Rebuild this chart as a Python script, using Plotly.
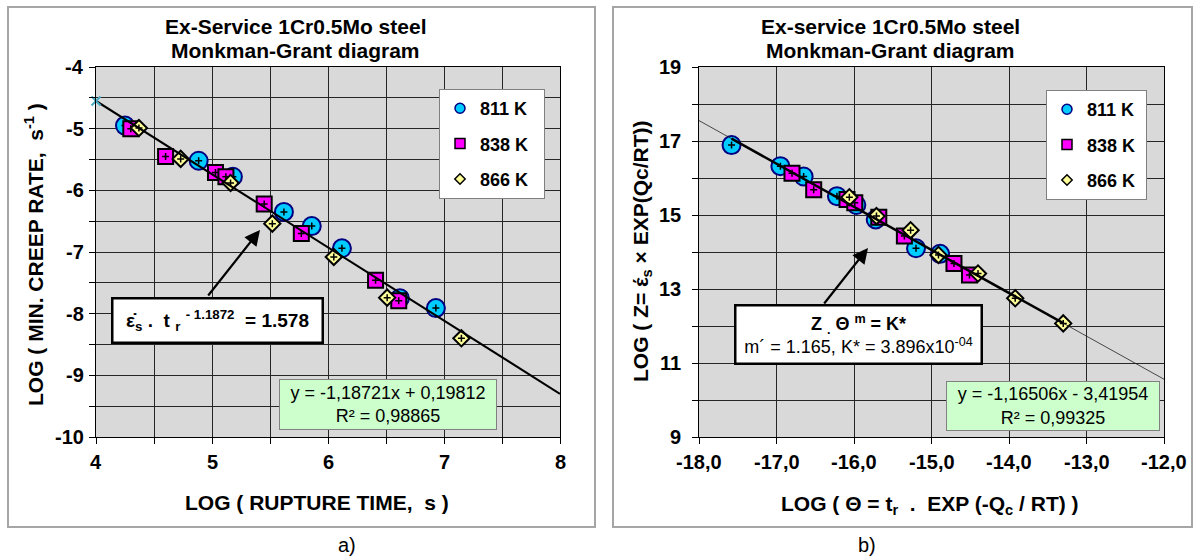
import plotly.graph_objects as go

W, H = 1198, 559

# ---------------- data ----------------
# a) Monkman-Grant: log rupture time vs log min creep rate
x811_a = [4.25, 4.885, 5.18, 5.62, 5.86, 6.12, 6.62, 6.93]
y811_a = [-4.95, -5.52, -5.78, -6.35, -6.58, -6.94, -7.75, -7.91]
x838_a = [4.30, 4.60, 5.03, 5.12, 5.45, 5.77, 6.41, 6.61]
y838_a = [-5.00, -5.45, -5.71, -5.78, -6.22, -6.70, -7.46, -7.79]
x866_a = [4.37, 4.73, 5.16, 5.52, 6.05, 6.51, 7.15]
y866_a = [-4.99, -5.49, -5.88, -6.54, -7.08, -7.74, -8.40]

# b) modified Monkman-Grant: log Theta vs log Z
x811_b = [-17.58, -16.95, -16.65, -16.22, -15.97, -15.72, -15.20, -14.89]
y811_b = [16.89, 16.32, 16.04, 15.51, 15.27, 14.88, 14.10, 13.95]
x838_b = [-16.80, -16.52, -16.09, -15.99, -15.68, -15.35, -14.71, -14.51]
y838_b = [16.13, 15.68, 15.42, 15.33, 14.94, 14.43, 13.69, 13.38]
x866_b = [-16.06, -15.71, -15.27, -14.91, -14.40, -13.92, -13.30]
y866_b = [15.48, 14.97, 14.59, 13.92, 13.42, 12.75, 12.07]

series_names = ["811 K", "838 K", "866 K"]

# trendline coefficients (slope, intercept)
fit_a = (-1.18721, 0.19812)
fit_b = (-1.16506, -3.41954)

# axis ranges / ticks
xrange_a = [4, 8]
yrange_a = [-10, -4]
xgrid_a = [4, 4.5, 5, 5.5, 6, 6.5, 7, 7.5, 8]
xlab_a = ["4", "", "5", "", "6", "", "7", "", "8"]
ygrid_a = [-10, -9.5, -9, -8.5, -8, -7.5, -7, -6.5, -6, -5.5, -5, -4.5, -4]
ylab_a = ["-10", "", "-9", "", "-8", "", "-7", "", "-6", "", "-5", "", "-4"]

xrange_b = [-18, -12]
yrange_b = [9, 19]
xgrid_b = [-18, -17, -16, -15, -14, -13, -12]
xlab_b = ["-18,0", "-17,0", "-16,0", "-15,0", "-14,0", "-13,0", "-12,0"]
ygrid_b = [9, 10, 11, 12, 13, 14, 15, 16, 17, 18, 19]
ylab_b = ["9", "", "11", "", "13", "", "15", "", "17", "", "19"]

# ---------------- styles ----------------
FONT = "Arial, Liberation Sans, sans-serif"
styles = [
    dict(symbol="circle", size=18, color="#00CCFF", line=dict(color="#000080", width=2)),
    dict(symbol="square", size=15, color="#FF00FF", line=dict(color="#000000", width=2)),
    dict(symbol="diamond", size=12.5, color="#FFFF99", line=dict(color="#000000", width=2)),
]
leg_styles = [
    dict(symbol="circle", size=10, color="#00CCFF", line=dict(color="#000080", width=1.5)),
    dict(symbol="square", size=10, color="#FF00FF", line=dict(color="#000000", width=1.5)),
    dict(symbol="diamond", size=8, color="#FFFF99", line=dict(color="#000000", width=1.5)),
]


def px(x):
    return x / W


def py(y):
    return 1 - y / H


fig = go.Figure()

data_a = [(x811_a, y811_a), (x838_a, y838_a), (x866_a, y866_a)]
data_b = [(x811_b, y811_b), (x838_b, y838_b), (x866_b, y866_b)]

for (xs, ys), st in zip(data_a, styles):
    fig.add_trace(go.Scatter(x=xs, y=ys, mode="markers", marker=st, showlegend=False,
                             xaxis="x", yaxis="y", hoverinfo="skip"))
    fig.add_trace(go.Scatter(x=xs, y=ys, mode="markers",
                             marker=dict(symbol="cross-thin", size=5, line=dict(color="black", width=1.5)),
                             showlegend=False, xaxis="x", yaxis="y", hoverinfo="skip"))

for (xs, ys), st in zip(data_b, styles):
    fig.add_trace(go.Scatter(x=xs, y=ys, mode="markers", marker=st, showlegend=False,
                             xaxis="x2", yaxis="y2", hoverinfo="skip"))
    fig.add_trace(go.Scatter(x=xs, y=ys, mode="markers",
                             marker=dict(symbol="cross-thin", size=5, line=dict(color="black", width=1.5)),
                             showlegend=False, xaxis="x2", yaxis="y2", hoverinfo="skip"))

# trendline a)
la_x = xrange_a
la_y = [fit_a[0] * v + fit_a[1] for v in la_x]
fig.add_trace(go.Scatter(x=la_x, y=la_y, mode="lines", line=dict(color="black", width=2),
                         showlegend=False, xaxis="x", yaxis="y", hoverinfo="skip"))
fig.add_trace(go.Scatter(x=[la_x[0]], y=[la_y[0]], mode="markers",
                         marker=dict(symbol="x-thin", size=9, line=dict(color="#4BACC6", width=2)),
                         showlegend=False, xaxis="x", yaxis="y", hoverinfo="skip", cliponaxis=False))

# trendline b) : thin full extent + thick over data range
lb_x = xrange_b
lb_y = [fit_b[0] * v + fit_b[1] for v in lb_x]
fig.add_trace(go.Scatter(x=lb_x, y=lb_y, mode="lines", line=dict(color="#222222", width=0.8),
                         showlegend=False, xaxis="x2", yaxis="y2", hoverinfo="skip"))
all_xb = x811_b + x838_b + x866_b
lt_x = [min(all_xb), max(all_xb)]
lt_y = [fit_b[0] * v + fit_b[1] for v in lt_x]
fig.add_trace(go.Scatter(x=lt_x, y=lt_y, mode="lines", line=dict(color="black", width=2.5),
                         showlegend=False, xaxis="x2", yaxis="y2", hoverinfo="skip"))

# legend dummy traces
for name, st in zip(series_names, leg_styles):
    fig.add_trace(go.Scatter(x=[None], y=[None], mode="markers", marker=st, name=name + "\u00a0\u00a0",
                             legend="legend", legendgroup="a" + name, xaxis="x", yaxis="y"))
for name, st in zip(series_names, leg_styles):
    fig.add_trace(go.Scatter(x=[None], y=[None], mode="markers", marker=st, name=name + "\u00a0",
                             legend="legend2", legendgroup="b" + name, xaxis="x2", yaxis="y2"))

grid = "#262626"

ax_common = dict(showgrid=True, gridcolor=grid, gridwidth=1, zeroline=False,
                 showline=True, linecolor="black", linewidth=1, mirror=True,
                 ticks="outside", ticklen=6, tickcolor="black", showticklabels=False,
                 tickmode="array", fixedrange=True)

fig.update_layout(
    width=W, height=H,
    margin=dict(l=0, r=0, t=0, b=0),
    paper_bgcolor="white",
    plot_bgcolor="#D9D9D9",
    font=dict(family=FONT, color="black"),
    xaxis=dict(domain=[px(96), px(560)], range=xrange_a, tickvals=xgrid_a, anchor="y", **ax_common),
    yaxis=dict(domain=[py(437), py(67)], range=yrange_a, tickvals=ygrid_a, anchor="x", **ax_common),
    xaxis2=dict(domain=[px(699), px(1164)], range=xrange_b, tickvals=xgrid_b, anchor="y2", **ax_common),
    yaxis2=dict(domain=[py(437), py(67)], range=yrange_b, tickvals=ygrid_b, anchor="x2", **ax_common),
    legend=dict(x=px(439), y=py(89), xanchor="left", yanchor="top",
                bgcolor="white", bordercolor="#808080", borderwidth=1,
                font=dict(family=FONT, size=18, color="black", weight="bold"),
                tracegroupgap=9, itemwidth=30),
    legend2=dict(x=px(1046), y=py(90), xanchor="left", yanchor="top",
                 bgcolor="white", bordercolor="#808080", borderwidth=1,
                 font=dict(family=FONT, size=18, color="black", weight="bold"),
                 tracegroupgap=9, itemwidth=30),
)

# chart frames
for x0, x1 in [(8, 595), (613, 1192)]:
    fig.add_shape(type="rect", xref="paper", yref="paper",
                  x0=px(x0), x1=px(x1), y0=py(527), y1=py(7),
                  line=dict(color="#A6A6A6", width=2), fillcolor="rgba(0,0,0,0)", layer="below")

ann = []


def text(x, y, s, size, bold=True, angle=0, **kw):
    d = dict(x=px(x), y=py(y), xref="paper", yref="paper", text=("<b>%s</b>" % s) if bold else s,
             showarrow=False, xanchor="center", yanchor="middle", textangle=angle,
             font=dict(family=FONT, size=size, color="black"))
    d.update(kw)
    ann.append(d)


# bold tick labels placed at the axis tick values
TICK = 20
for v, s in zip(xgrid_a, xlab_a):
    if s:
        ann.append(dict(x=v, xref="x", y=py(462), yref="paper", text="<b>%s</b>" % s, showarrow=False,
                        xanchor="center", yanchor="middle", font=dict(family=FONT, size=TICK, color="black")))
for v, s in zip(ygrid_a, ylab_a):
    if s:
        ann.append(dict(x=px(86), xref="paper", y=v, yref="y", text="<b>%s</b>" % s, showarrow=False,
                        xanchor="right", yanchor="middle", font=dict(family=FONT, size=TICK, color="black")))
for v, s in zip(xgrid_b, xlab_b):
    if s:
        ann.append(dict(x=v, xref="x2", y=py(462), yref="paper", text="<b>%s</b>" % s, showarrow=False,
                        xanchor="center", yanchor="middle", font=dict(family=FONT, size=TICK, color="black")))
for v, s in zip(ygrid_b, ylab_b):
    if s:
        ann.append(dict(x=px(683), xref="paper", y=v, yref="y2", text="<b>%s</b>" % s, showarrow=False,
                        xanchor="right", yanchor="middle", font=dict(family=FONT, size=TICK, color="black")))

# titles
text(295, 27, "Ex-Service 1Cr0.5Mo steel", 21)
text(295, 50, "Monkman-Grant diagram", 21)
text(890, 27, "Ex-service 1Cr0.5Mo steel", 21)
text(890, 50, "Monkman-Grant diagram", 21)

# axis titles
text(317, 502, "LOG ( RUPTURE TIME,\u00a0 s )", 21)
text(34, 255, "LOG ( MIN. CREEP RATE,\u00a0 s<sup>-1</sup> )", 21, angle=-90)
text(930, 505, "LOG ( \u0398 = t<sub>r</sub>\u00a0 .\u00a0 EXP (-Q<sub>c</sub> / RT) )", 21)
text(642, 251, "LOG ( Z= \u03ad<sub>s</sub> \u00d7 EXP(Qc/RT))", 21, angle=-90)

# captions
text(347, 545, "a)", 20, bold=False)
text(867, 545, "b)", 20, bold=False)

# equation boxes
text(217, 320, "\u03b5\u0307<sub>s</sub> .\u00a0 t <sub>r</sub> <sup>- 1.1872</sup>\u00a0 = 1.578", 19,
     bgcolor="white", bordercolor="black", borderwidth=2.5, borderpad=2, width=204, height=38)
text(858, 334, "<b>Z <sub>.</sub> \u0398 <sup>m</sup> = K*</b><br>m\u00b4 = 1.165, K* = 3.896x10<sup>-04</sup>", 18,
     bold=False, bgcolor="white", bordercolor="black", borderwidth=2.5, borderpad=2, width=240, height=52)

# trendline labels
text(388, 404.5, "y = -1,18721x + 0,19812<br>R\u00b2 = 0,98865", 18, bold=False,
     bgcolor="#CCFFCC", bordercolor="#808080", borderwidth=1, borderpad=2, width=212, height=45)
text(1053, 406, "y = -1,16506x - 3,41954<br>R\u00b2 = 0,99325", 18, bold=False,
     bgcolor="#CCFFCC", bordercolor="#808080", borderwidth=1, borderpad=2, width=208, height=44)

# arrows
for (hx, hy, ax, ay) in [(260, 230, -53, 67), (868, 248, -45, 57)]:
    ann.append(dict(x=px(hx), y=py(hy), xref="paper", yref="paper", text="", showarrow=True,
                    ax=ax, ay=ay, arrowhead=2, arrowsize=1.4, arrowwidth=2.2, arrowcolor="black"))

fig.update_layout(annotations=ann)

fig.write_html("out.html")
